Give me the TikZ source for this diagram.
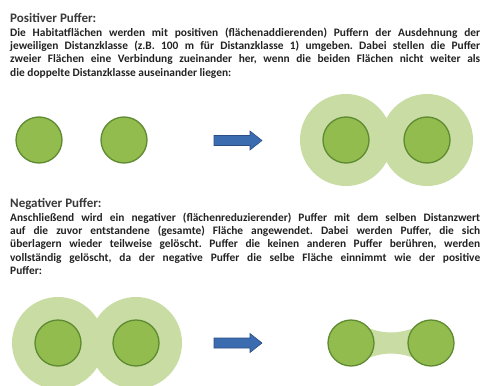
\documentclass[tikz,border=0pt]{standalone}
\usepackage{fontspec}
\setmainfont{Carlito}
\definecolor{innerg}{HTML}{92BC4E}
\definecolor{innerb}{HTML}{5E8A32}
\definecolor{bufg}{HTML}{C8DCA4}
\definecolor{arrf}{HTML}{3C6CB0}
\definecolor{arrb}{HTML}{2A4E84}
\definecolor{txt}{HTML}{222222}
\begin{document}
\begin{tikzpicture}[x=1pt,y=-1pt,
  habitat/.style={circle,fill=innerg,draw=innerb,line width=1.3pt,minimum size=46pt,inner sep=0pt},
  buffer/.style={circle,fill=bufg,minimum size=92pt,inner sep=0pt},
  heading/.style={anchor=base west,inner sep=0pt,font=\fontsize{13}{15}\selectfont\bfseries,text=txt!90},
  body/.style={anchor=north west,inner sep=0pt,text width=470pt,align=justify,font=\fontsize{11.4}{13.4}\selectfont\bfseries\frenchspacing,text=txt},
  bigarrow/.style={fill=arrf,draw=arrb,line width=0.6pt}]
\useasboundingbox (0,0) rectangle (486,385);
% Texts
\node[heading] (h1) at (10,22.5) {Positiver Puffer:};
\node[body] (t1) at (10,27.5) {\hyphenpenalty=10000 Die Habitatflächen werden mit positiven (flächenaddierenden) Puffern der Ausdehnung der\linebreak jeweiligen Distanzklasse (z.B. 100 m für Distanzklasse 1) umgeben. Dabei stellen die Puffer\linebreak zweier Flächen eine Verbindung zueinander her, wenn die beiden Flächen nicht weiter als\linebreak die doppelte Distanzklasse auseinander liegen:};
\node[heading] (h2) at (10,207) {Negativer Puffer:};
\node[body] (t2) at (10,212.5) {\hyphenpenalty=10000 Anschließend wird ein negativer (flächenreduzierender) Puffer mit dem selben Distanzwert\linebreak auf die zuvor entstandene (gesamte) Fläche angewendet. Dabei werden Puffer, die sich\linebreak überlagern wieder teilweise gelöscht. Puffer die keinen anderen Puffer berühren, werden\linebreak vollständig gelöscht, da der negative Puffer die selbe Fläche einnimmt wie der positive\linebreak Puffer:};
% Top row
\node[habitat] (a1) at (39,140) {};
\node[habitat] (a2) at (124,140) {};
\draw[bigarrow] (214,135.5) -- (250,135.5) -- (250,131) -- (262,140.5) -- (250,150) -- (250,145.5) -- (214,145.5) -- cycle;
\node[buffer] (bb1) at (346,140) {};
\node[buffer] (bb2) at (427,140) {};
\node[habitat] (b1) at (346,140) {};
\node[habitat] (b2) at (427,140) {};
% Bottom row
\node[buffer] (cb1) at (58,343) {};
\node[buffer] (cb2) at (136,343) {};
\node[habitat] (c1) at (58,343) {};
\node[habitat] (c2) at (136,343) {};
\draw[bigarrow] (214,338) -- (250,338) -- (250,333.5) -- (262,343) -- (250,352.5) -- (250,348) -- (214,348) -- cycle;
\fill[bufg] (368,328) .. controls (385,334) and (397,334) .. (414,328)
  -- (414,358) .. controls (397,352) and (385,352) .. (368,358) -- cycle;
\node[habitat] (d1) at (351,343) {};
\node[habitat] (d2) at (431,343) {};
\end{tikzpicture}
\end{document}
